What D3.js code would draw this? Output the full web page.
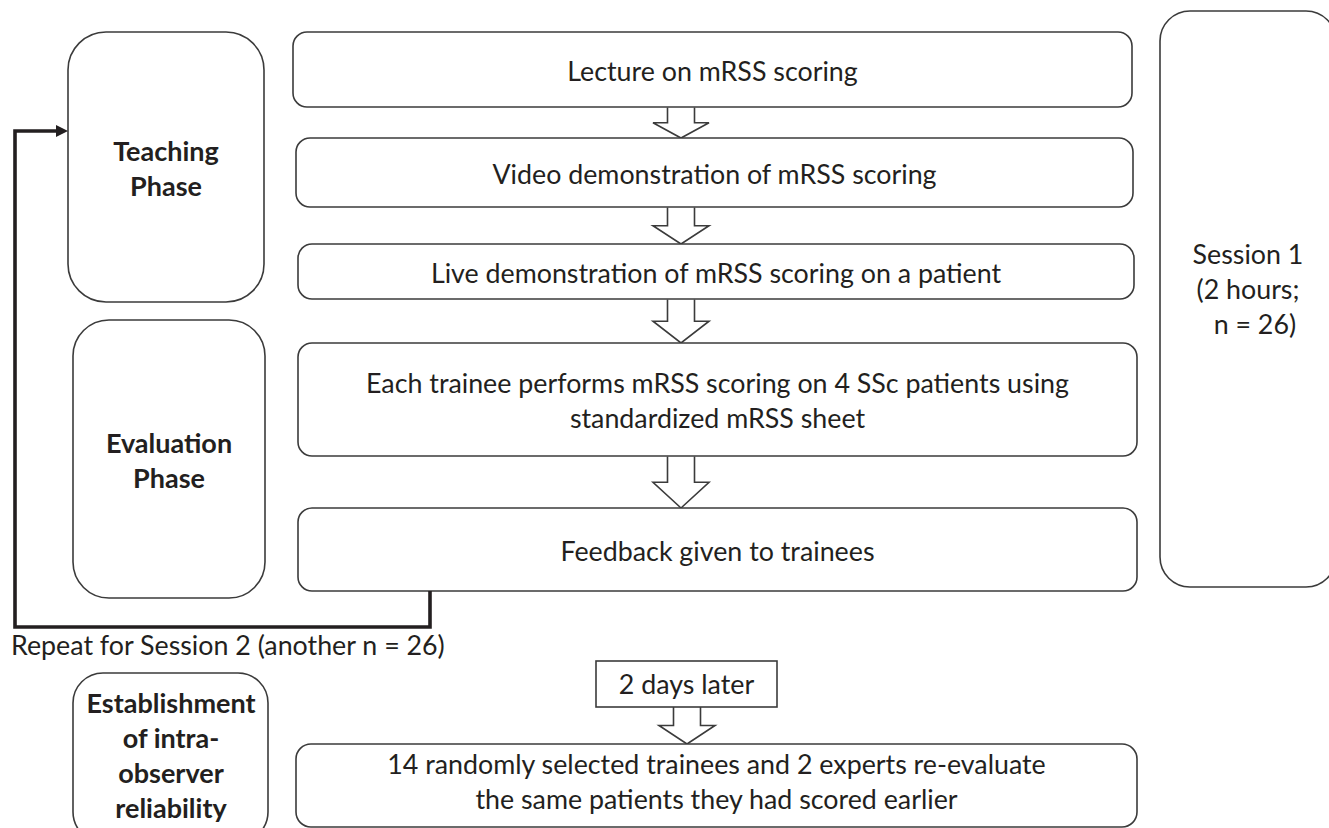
<!DOCTYPE html>
<html>
<head>
<meta charset="utf-8">
<script src="https://cdnjs.cloudflare.com/ajax/libs/d3/7.8.5/d3.min.js"></script>
<style>
  body { margin: 0; background: #fff; }
  text { font-family: Lato, "Open Sans", sans-serif; fill: #231f20; }
</style>
</head>
<body>
<svg id="flow" width="1329" height="828"></svg>
<script>
// labels of the flow, top to bottom
var stepLabels = [
  ["Lecture on mRSS scoring"],
  ["Video demonstration of mRSS scoring"],
  ["Live demonstration of mRSS scoring on a patient"],
  ["Each trainee performs mRSS scoring on 4 SSc patients using", "standardized mRSS sheet"],
  ["Feedback given to trainees"]
];
var phaseLabels = [["Teaching", "Phase"], ["Evaluation", "Phase"]];
var sessionLabels = ["Session 1", "(2 hours;", "  n = 26)"];
var repeatLabel = "Repeat for Session 2 (another n = 26)";
var delayLabel = "2 days later";
var reliabilityLabels = ["Establishment", "of intra-", "observer", "reliability"];
var retestLabels = ["14 randomly selected trainees and 2 experts re-evaluate", "the same patients they had scored earlier"];

var svg = d3.select("#flow");
var width = +svg.attr("width");
var height = +svg.attr("height");

// page coordinates of the original figure
var x = d3.scaleLinear().domain([0, 1329]).range([0, width]);
var y = d3.scaleLinear().domain([0, 828]).range([0, height]);

var ink = "#231f20";
var edge = "#3b3b3b";
var fontSize = 26.8;
var boldSize = 27;
var lineGap = 35;

// box geometry (layout, not data)
var stepBoxes = [
  { x0: 293, x1: 1132, y0: 32, y1: 107 },
  { x0: 296, x1: 1133, y0: 138, y1: 207 },
  { x0: 298, x1: 1134, y0: 244, y1: 299 },
  { x0: 298, x1: 1137, y0: 343, y1: 456 },
  { x0: 298, x1: 1137, y0: 508, y1: 591 }
];
var phaseBoxes = [
  { x0: 68, x1: 264, y0: 32, y1: 302, r: 38 },
  { x0: 73, x1: 265, y0: 320, y1: 598, r: 36 }
];
var sessionBox = { x0: 1160, x1: 1336, y0: 11, y1: 587, r: 30 };
var reliabilityBox = { x0: 73, x1: 268, y0: 673, y1: 842, r: 30 };
var retestBox = { x0: 296, x1: 1137, y0: 744, y1: 827, r: 15 };
var delayBox = { x0: 596, x1: 777, y0: 661, y1: 707 };

function drawBox(b, r) {
  svg.append("rect")
    .attr("x", x(b.x0)).attr("y", y(b.y0))
    .attr("width", x(b.x1) - x(b.x0)).attr("height", y(b.y1) - y(b.y0))
    .attr("rx", r).attr("ry", r)
    .style("fill", "#fff").style("stroke", edge).style("stroke-width", 1.6);
}

// lines are centred vertically on cy
function drawLines(lines, cx, cy, size, weight, anchor) {
  var t = svg.append("text")
    .attr("text-anchor", anchor || "middle")
    .style("font-size", size + "px")
    .style("font-weight", weight || "normal")
    .style("white-space", "pre");
  lines.forEach(function (line, i) {
    t.append("tspan")
      .attr("x", cx)
      .attr("y", cy + (i - (lines.length - 1) / 2) * lineGap)
      .attr("dy", "0.35em")
      .text(line);
  });
}

// hollow block arrow from (cx, top) to (cx, tip)
function blockArrow(cx, top, tip) {
  var head = (tip - top) * 0.5;
  var sw = 13.5, hw = 28;
  var pts = [
    [cx - sw, top], [cx - sw, tip - head], [cx - hw, tip - head], [cx, tip],
    [cx + hw, tip - head], [cx + sw, tip - head], [cx + sw, top]
  ];
  svg.append("path")
    .attr("d", d3.line().x(function (p) { return x(p[0]); }).y(function (p) { return y(p[1]); })(pts))
    .style("fill", "#fff").style("stroke", edge).style("stroke-width", 1.6);
}

// arrows between the steps
var arrowX = 681;
for (var i = 0; i < stepBoxes.length - 1; i++) {
  blockArrow(arrowX, stepBoxes[i].y1 + 0.5, stepBoxes[i + 1].y0);
}
blockArrow(687, delayBox.y1, retestBox.y0);

// boxes
phaseBoxes.forEach(function (b, i) {
  drawBox(b, b.r);
  drawLines(phaseLabels[i], x((b.x0 + b.x1) / 2), y((b.y0 + b.y1) / 2) + 2, boldSize, "bold");
});
stepBoxes.forEach(function (b, i) {
  drawBox(b, 14);
  drawLines(stepLabels[i], x((b.x0 + b.x1) / 2), y((b.y0 + b.y1) / 2) + 2, fontSize);
});
drawBox(sessionBox, sessionBox.r);
drawLines(sessionLabels, x(1248), y(290), fontSize);

drawBox(reliabilityBox, reliabilityBox.r);
drawLines(reliabilityLabels, x(171), y(756), boldSize, "bold");

drawBox(retestBox, retestBox.r);
drawLines(retestLabels, x((retestBox.x0 + retestBox.x1) / 2), y(782), fontSize);

svg.append("rect")
  .attr("x", x(delayBox.x0)).attr("y", y(delayBox.y0))
  .attr("width", x(delayBox.x1) - x(delayBox.x0)).attr("height", y(delayBox.y1) - y(delayBox.y0))
  .style("fill", "#fff").style("stroke", edge).style("stroke-width", 1.6);
drawLines([delayLabel], x((delayBox.x0 + delayBox.x1) / 2), y(685), fontSize);

// feedback loop back to the teaching phase
var loopY = 627, loopX = 15, loopExitX = 430, loopEntryY = 131;
var loop = [
  [loopExitX, stepBoxes[4].y1], [loopExitX, loopY], [loopX, loopY],
  [loopX, loopEntryY], [phaseBoxes[0].x0 - 10, loopEntryY]
];
svg.append("path")
  .attr("d", d3.line().x(function (p) { return x(p[0]); }).y(function (p) { return y(p[1]); })(loop))
  .style("fill", "none").style("stroke", ink).style("stroke-width", 3.6)
  .style("stroke-linejoin", "miter");
svg.append("path")
  .attr("d", d3.line()([
    [x(phaseBoxes[0].x0 - 12), y(loopEntryY - 6)],
    [x(phaseBoxes[0].x0), y(loopEntryY)],
    [x(phaseBoxes[0].x0 - 12), y(loopEntryY + 6)]
  ]) + "Z")
  .style("fill", ink);

drawLines([repeatLabel], x(11), y(646), fontSize, "normal", "start");
</script>
</body>
</html>
